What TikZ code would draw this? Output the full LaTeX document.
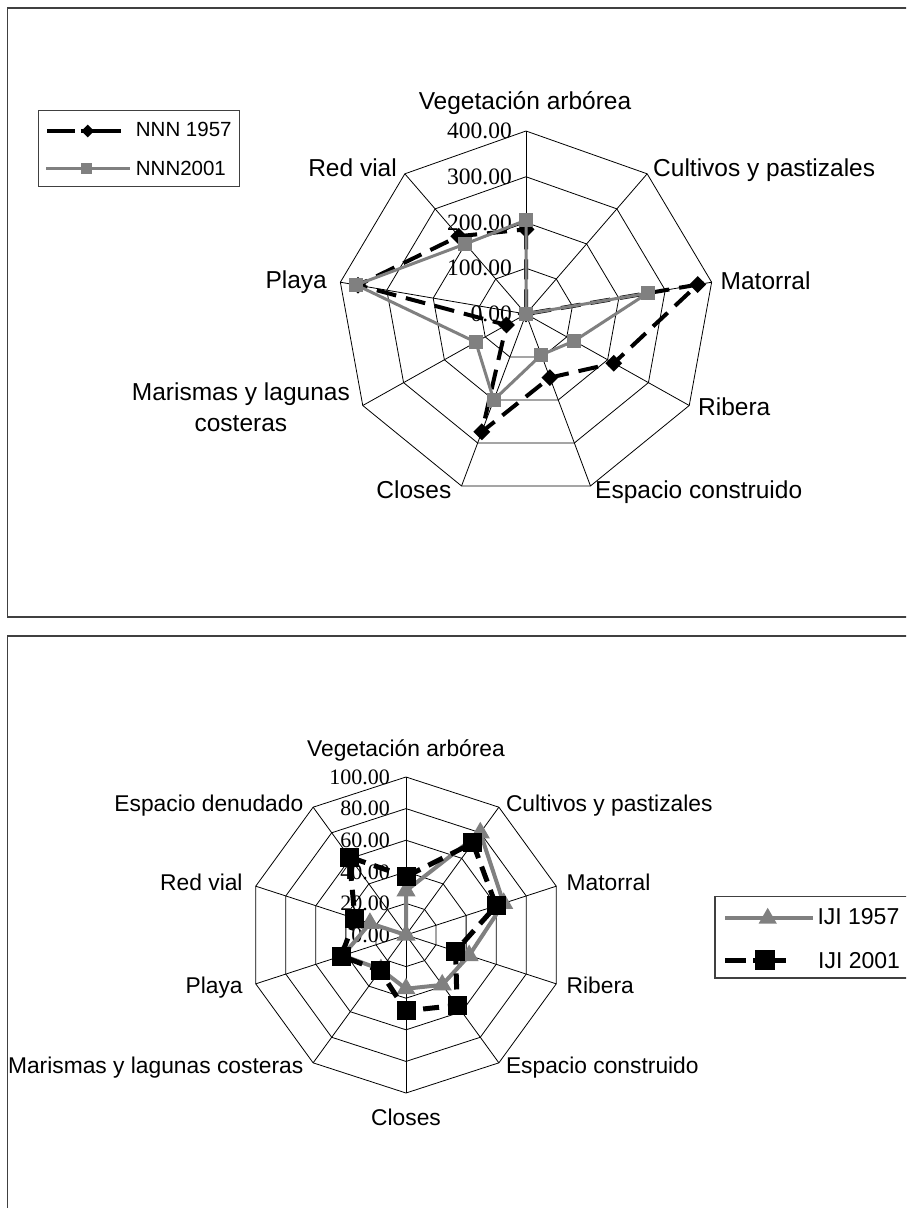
\documentclass[tikz,border=0pt]{standalone}
\usepackage{fontspec}
\setmainfont{Liberation Sans}
\newfontfamily\tickfont{Liberation Serif}
\usetikzlibrary{shapes.geometric}

\begin{document}
\begin{tikzpicture}[x=1pt, y=-1pt,
    grid line/.style={black, line width=0.8pt},
    frame box/.style={draw=black!75, line width=1.8pt},
    key box/.style={draw=black!75, line width=1.2pt},
    nnn old/.style={black, line width=4pt, dash pattern=on 20pt off 10pt},
    nnn new/.style={gray, line width=3pt},
    iji old/.style={gray, line width=4pt},
    iji new/.style={black, line width=5pt, dash pattern=on 16pt off 9pt},
    diamond mark/.style={diamond, fill=black, inner sep=0pt, minimum width=17pt, minimum height=17pt},
    grey square/.style={rectangle, fill=gray, inner sep=0pt, minimum size=14pt},
    black square/.style={rectangle, fill=black, inner sep=0pt, minimum size=19pt},
    grey triangle/.style={regular polygon, regular polygon sides=3, fill=gray, inner sep=0pt, minimum size=22pt},
    top label/.style={inner sep=0pt, font=\fontsize{24.5}{31.5}\selectfont},
    bottom label/.style={inner sep=0pt, font=\fontsize{22.8}{26}\selectfont},
    top tick/.style={inner sep=0pt, anchor=base east, font=\tickfont\fontsize{23.5}{27}\selectfont},
    bottom tick/.style={inner sep=0pt, anchor=base east, font=\tickfont\fontsize{22}{25}\selectfont},
    key text/.style={inner sep=0pt, anchor=base west}
  ]

  % Page size and clipping
  \useasboundingbox (0,0) rectangle (906,1208);
  \clip (0,0) rectangle (906,1208);
  \fill[white] (0,0) rectangle (906,1208);

  % Chart frames (right side runs off the page)
  \draw[frame box] (7.5,8) rectangle (930,617);
  \draw[frame box] (7.5,636) rectangle (930,1240);

  % ---------------- Top radar: NNN ----------------
  \begin{scope}[shift={(526,314)}, xscale=1.03]
    % rings every 100
    \foreach \r in {0.25,0.5,0.75,1}
      \draw[grid line] (-90:{183*\r}) \foreach \k in {1,...,8} { -- ({\k*40-90}:{183*\r}) } -- cycle;
    % spokes
    \foreach \k in {0,...,8}
      \draw[grid line] (0,0) -- ({\k*40-90}:183);
    % data points
    \foreach \v [count=\k from 0] in {185,0,370,215,148,274,48,362,222}
      \coordinate (nnnA\k) at ({\k*40-90}:{\v/400*183});
    \foreach \v [count=\k from 0] in {205,0,262,118,95,200,123,366,200}
      \coordinate (nnnB\k) at ({\k*40-90}:{\v/400*183});
  \end{scope}

  % Tick values of the top radar
  \foreach \t [count=\i from 0] in {0.00,100.00,200.00,300.00,400.00}
    \node[top tick] (tt\i) at (512, {321.5-45.75*\i}) {\t};

  % NNN 1957 series
  \draw[nnn old] (nnnA0) \foreach \k in {1,...,8} { -- (nnnA\k) } -- cycle;
  \foreach \k in {0,...,8} \node[diamond mark] (dA\k) at (nnnA\k) {};
  % NNN2001 series
  \draw[nnn new] (nnnB0) \foreach \k in {1,...,8} { -- (nnnB\k) } -- cycle;
  \foreach \k in {0,...,8} \node[grey square] (sB\k) at (nnnB\k) {};

  % Axis labels of the top radar
  \node[top label, anchor=base] (tVeg) at (525,109) {Vegetación arbórea};
  \node[top label, anchor=base west] (tCul) at (653,176.5) {Cultivos y pastizales};
  \node[top label, anchor=base west] (tMat) at (720.5,289) {Matorral};
  \node[top label, anchor=base west] (tRib) at (698,415) {Ribera};
  \node[top label, anchor=base west] (tEsp) at (595,498) {Espacio construido};
  \node[top label, anchor=base east] (tClo) at (451.5,498) {Closes};
  \node[top label, anchor=east, align=center] (tMar) at (350,407) {Marismas y lagunas\\costeras};
  \node[top label, anchor=base east] (tPla) at (327,288) {Playa};
  \node[top label, anchor=base east] (tRed) at (397,176.5) {Red vial};

  % Legend of the top radar
  \draw[key box] (38.5,110.7) rectangle (239.3,186.7);
  \coordinate (kA1) at (47.3,131);
  \coordinate (kA2) at (120.7,131);
  \draw[black, line width=3.3pt, dash pattern=on 28pt off 6pt on 60pt] (kA1) -- (kA2);
  \node[diamond mark, minimum width=13pt, minimum height=13pt] (kAd) at (87.7,131) {};
  \node[key text, font=\fontsize{20.5}{24}\selectfont] (kAt) at (135.7,136.7) {NNN 1957};
  \coordinate (kB1) at (46,168.3);
  \coordinate (kB2) at (130,168.3);
  \draw[nnn new] (kB1) -- (kB2);
  \node[grey square, minimum size=11.5pt] (kBs) at (86.7,168.3) {};
  \node[key text, font=\fontsize{20.5}{24}\selectfont] (kBt) at (135.7,175) {NNN2001};

  % ---------------- Bottom radar: IJI ----------------
  \begin{scope}[shift={(406,935)}]
    % rings every 20
    \foreach \r in {0.2,0.4,0.6,0.8,1}
      \draw[grid line] (-90:{158*\r}) \foreach \k in {1,...,9} { -- ({\k*36-90}:{158*\r}) } -- cycle;
    % spokes
    \foreach \k in {0,...,9}
      \draw[grid line] (0,0) -- ({\k*36-90}:158);
    % data points
    \foreach \v [count=\k from 0] in {28,80,65,42,39,34,27,42,24,0}
      \coordinate (ijiA\k) at ({\k*36-90}:{\v/100*158});
    \foreach \v [count=\k from 0] in {37,72,60,33,55,48,28,43,34,61}
      \coordinate (ijiB\k) at ({\k*36-90}:{\v/100*158});
  \end{scope}

  % Tick values of the bottom radar
  \foreach \t [count=\i from 0] in {0.00,20.00,40.00,60.00,80.00,100.00}
    \node[bottom tick] (bt\i) at (390, {942.3-31.6*\i}) {\t};

  % IJI 1957 series
  \draw[iji old] (ijiA0) \foreach \k in {1,...,9} { -- (ijiA\k) } -- cycle;
  \foreach \k in {0,...,9} \node[grey triangle] (gA\k) at (ijiA\k) {};
  % IJI 2001 series
  \draw[iji new] (ijiB0) \foreach \k in {1,...,9} { -- (ijiB\k) } -- cycle;
  \foreach \k in {0,...,9} \node[black square] (bB\k) at (ijiB\k) {};

  % Axis labels of the bottom radar
  \node[bottom label, anchor=base] (bVeg) at (406,756.7) {Vegetación arbórea};
  \node[bottom label, anchor=base west] (bCul) at (505.8,811.7) {Cultivos y pastizales};
  \node[bottom label, anchor=base west] (bMat) at (566.5,890.5) {Matorral};
  \node[bottom label, anchor=base west] (bRib) at (566.5,993.6) {Ribera};
  \node[bottom label, anchor=base west] (bEsp) at (505.8,1073.7) {Espacio construido};
  \node[bottom label, anchor=base] (bClo) at (406,1125) {Closes};
  \node[bottom label, anchor=base east] (bMar) at (303.5,1073.7) {Marismas y lagunas costeras};
  \node[bottom label, anchor=base east] (bPla) at (242.8,993.6) {Playa};
  \node[bottom label, anchor=base east] (bRed) at (242.8,890.5) {Red vial};
  \node[bottom label, anchor=base east] (bDen) at (303.5,811.7) {Espacio denudado};

  % Legend of the bottom radar
  \draw[key box] (715,896.7) rectangle (930,978);
  \coordinate (kC1) at (725,918.3);
  \coordinate (kC2) at (812.7,918.3);
  \draw[iji old] (kC1) -- (kC2);
  \node[grey triangle, minimum size=21pt] (kCt) at (767.7,918.3) {};
  \node[key text, font=\fontsize{23}{27}\selectfont] (kCl) at (817.3,924) {IJI 1957};
  \coordinate (kD1) at (725,960.4);
  \coordinate (kD2) at (786,960.4);
  \draw[black, line width=5pt, dash pattern=on 21pt off 7pt on 60pt] (kD1) -- (kD2);
  \node[black square, minimum size=20pt] (kDs) at (765,960.4) {};
  \node[key text, font=\fontsize{23}{27}\selectfont] (kDl) at (818,968.8) {IJI 2001};

\end{tikzpicture}
\end{document}
